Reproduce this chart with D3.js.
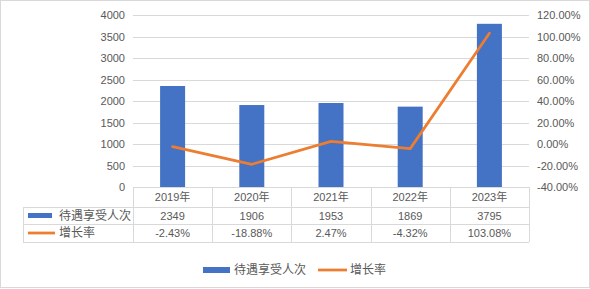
<!DOCTYPE html>
<html><head><meta charset="utf-8">
<script src="https://cdn.jsdelivr.net/npm/d3@7"></script>
<style>body{margin:0;background:#fff;}svg{display:block;}</style>
</head><body>
<script>
const categories = ["2019年","2020年","2021年","2022年","2023年"];
const counts = [2349,1906,1953,1869,3795];
const rates = [-2.43,-18.88,2.47,-4.32,103.08];
const countLabels = ["2349","1906","1953","1869","3795"];
const rateLabels = ["-2.43%","-18.88%","2.47%","-4.32%","103.08%"];
const leftTicks = [0,500,1000,1500,2000,2500,3000,3500,4000];
const rightTicks = [-40,-20,0,20,40,60,80,100,120];
const seriesNames = ["待遇享受人次","增长率"];

const W=590,H=289;
const blue="#4472c4", orange="#ed7d31", grid="#d9d9d9", txt="#595959";
const font='"Liberation Sans","Noto Sans CJK SC",sans-serif';
const svg=d3.select("body").append("svg").attr("width",W).attr("height",H);
svg.append("rect").attr("x",0.5).attr("y",0.5).attr("width",W-1).attr("height",H-2).attr("fill","#fff").attr("stroke","#d9d9d9");

const x0=133,x1=529,yTop=15,yBot=187;
const x=d3.scaleBand().domain(categories).range([x0,x1]);
const yL=d3.scaleLinear().domain([0,4000]).range([yBot,yTop]);
const yR=d3.scaleLinear().domain([-40,120]).range([yBot,yTop]);

// gridlines
svg.append("g").selectAll("line").data(leftTicks.slice(1)).join("line")
  .attr("x1",x0).attr("x2",x1).attr("y1",d=>Math.round(yL(d))+0.5).attr("y2",d=>Math.round(yL(d))+0.5)
  .attr("stroke",grid).attr("stroke-width",1);

// left axis labels
svg.append("g").selectAll("text").data(leftTicks).join("text")
  .attr("x",125).attr("y",d=>yL(d)+4).attr("text-anchor","end")
  .attr("font-family",font).attr("font-size",11).attr("fill",txt).text(d=>d);
// right axis labels
svg.append("g").selectAll("text").data(rightTicks).join("text")
  .attr("x",537).attr("y",d=>yR(d)+4).attr("text-anchor","start")
  .attr("font-family",font).attr("font-size",11).attr("fill",txt).text(d=>d.toFixed(2)+"%");

// bars
const bw=25;
svg.append("g").selectAll("rect").data(counts).join("rect")
  .attr("x",(d,i)=>x(categories[i])+x.bandwidth()/2-bw/2).attr("width",bw)
  .attr("y",d=>yL(d)).attr("height",d=>yBot-yL(d)).attr("fill",blue);

// line
const line=d3.line().x((d,i)=>x(categories[i])+x.bandwidth()/2).y(d=>yR(d));
svg.append("path").datum(rates).attr("d",line).attr("fill","none").attr("stroke",orange)
  .attr("stroke-width",2.75).attr("stroke-linejoin","round").attr("stroke-linecap","round");

// data table
const tL=23, rows=[187,207,224,242];
const tg=svg.append("g");
// horizontal lines
tg.append("line").attr("x1",x0).attr("x2",x1).attr("y1",rows[0]+0.5).attr("y2",rows[0]+0.5).attr("stroke",grid);
[rows[1],rows[2],rows[3]].forEach(r=>{
  tg.append("line").attr("x1",tL).attr("x2",x1).attr("y1",r+0.5).attr("y2",r+0.5).attr("stroke",grid);
});
// vertical lines
tg.append("line").attr("x1",tL+0.5).attr("x2",tL+0.5).attr("y1",rows[1]).attr("y2",rows[3]).attr("stroke",grid);
const vx=[x0].concat(categories.map(c=>x(c)+x.bandwidth()));
vx.forEach(v=>{
  tg.append("line").attr("x1",Math.round(v)+0.5).attr("x2",Math.round(v)+0.5).attr("y1",rows[0]).attr("y2",rows[3]).attr("stroke",grid);
});
// header
tg.selectAll("text.h").data(categories).join("text").attr("class","h")
  .attr("x",d=>x(d)+x.bandwidth()/2).attr("y",rows[0]+14).attr("text-anchor","middle")
  .attr("font-family",font).attr("font-size",11).attr("fill",txt).text(d=>d);
tg.selectAll("text.c").data(countLabels).join("text").attr("class","c")
  .attr("x",(d,i)=>x(categories[i])+x.bandwidth()/2).attr("y",rows[1]+13).attr("text-anchor","middle")
  .attr("font-family",font).attr("font-size",11).attr("fill",txt).text(d=>d);
tg.selectAll("text.r").data(rateLabels).join("text").attr("class","r")
  .attr("x",(d,i)=>x(categories[i])+x.bandwidth()/2).attr("y",rows[2]+13).attr("text-anchor","middle")
  .attr("font-family",font).attr("font-size",11).attr("fill",txt).text(d=>d);
// row keys
tg.append("rect").attr("x",28).attr("y",rows[1]+6).attr("width",24).attr("height",5).attr("fill",blue);
tg.append("text").attr("x",59).attr("y",rows[1]+13).attr("font-family",font).attr("font-size",12).attr("fill",txt).text(seriesNames[0]);
tg.append("line").attr("x1",28).attr("x2",55).attr("y1",rows[2]+9).attr("y2",rows[2]+9).attr("stroke",orange).attr("stroke-width",2.75);
tg.append("text").attr("x",59).attr("y",rows[2]+13).attr("font-family",font).attr("font-size",12).attr("fill",txt).text(seriesNames[1]);

// legend
const lg=svg.append("g");
lg.append("rect").attr("x",203).attr("y",267).attr("width",27).attr("height",6).attr("fill",blue);
lg.append("text").attr("x",234).attr("y",274).attr("font-family",font).attr("font-size",12).attr("fill",txt).text(seriesNames[0]);
lg.append("line").attr("x1",318).attr("x2",347).attr("y1",270).attr("y2",270).attr("stroke",orange).attr("stroke-width",2.75);
lg.append("text").attr("x",350).attr("y",274).attr("font-family",font).attr("font-size",12).attr("fill",txt).text(seriesNames[1]);
</script>
</body></html>
